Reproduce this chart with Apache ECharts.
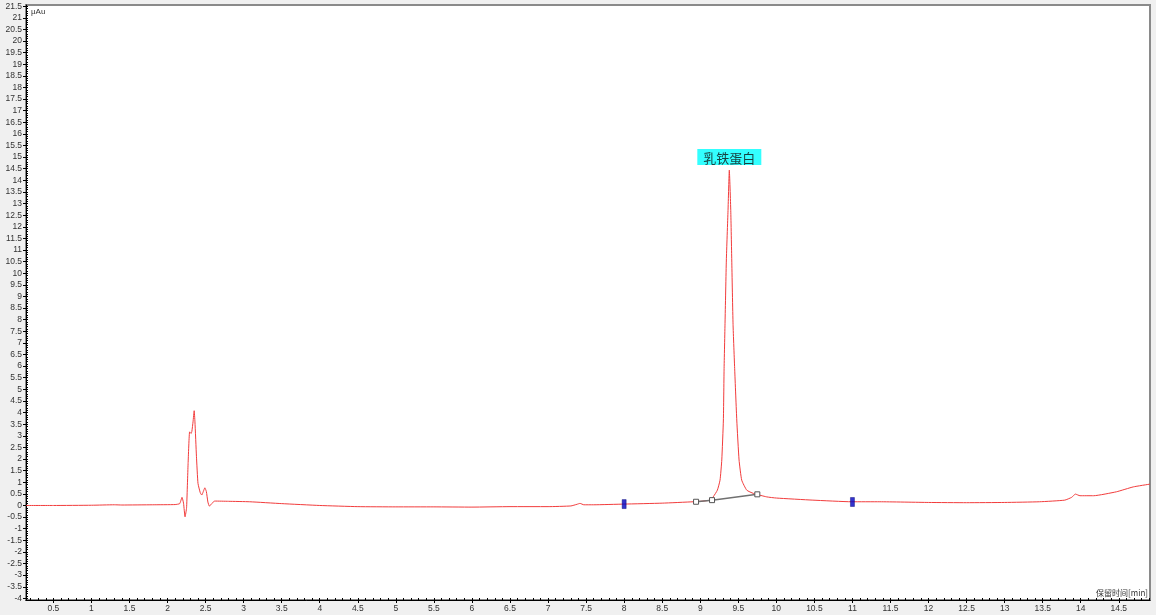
<!DOCTYPE html>
<html>
<head>
<meta charset="utf-8">
<script src="https://cdn.jsdelivr.net/npm/echarts@6/dist/echarts.min.js"></script>
<style>
html,body{margin:0;padding:0;background:#f0f0f0;}
#chart{width:1156px;height:615px;}
</style>
</head>
<body>
<div id="chart"></div>
<script>
// Retention time (min)
const times = [
  0.14, 0.5, 1.0, 1.3, 1.4, 1.8, 2.1, 2.16, 2.19, 2.21, 2.23, 2.25, 2.27, 2.29, 2.31, 2.32, 2.335, 2.35, 2.36, 2.38, 2.40,
  2.43, 2.45, 2.47, 2.49, 2.51, 2.53, 2.55, 2.58, 2.62, 2.8, 3.08, 3.5, 4.0, 4.5, 5.0, 5.5, 6.0, 6.5, 7.0,
  7.3, 7.38, 7.42, 7.47, 7.6, 8.0, 8.5, 8.91, 9.0, 9.13, 9.17, 9.225, 9.26, 9.283, 9.304, 9.313, 9.326, 9.343,
  9.365, 9.382, 9.401, 9.414, 9.431, 9.453, 9.48, 9.51, 9.545, 9.611, 9.698, 9.874, 10.0, 10.48, 10.99, 11.36,
  12.0, 12.5, 13.0, 13.46, 13.79, 13.88, 13.93, 13.99, 14.17, 14.47, 14.69, 14.91
];
// Detector signal (μAu)
const signal = [
  0.00, 0.00, 0.01, 0.03, 0.02, 0.03, 0.04, 0.08, 0.35, 0.10, -0.49, -0.10, 1.80, 3.17, 3.10, 3.20, 3.60, 4.08, 3.60, 2.10, 0.95,
  0.55, 0.45, 0.60, 0.76, 0.60, 0.15, -0.03, 0.08, 0.19, 0.18, 0.16, 0.08, 0.00, -0.05, -0.06, -0.06, -0.07, -0.05, -0.05,
  -0.02, 0.05, 0.09, 0.03, 0.03, 0.06, 0.10, 0.16, 0.18, 0.23, 0.37, 0.66, 1.09, 1.96, 3.68, 5.83, 7.90, 10.57,
  12.70, 14.44, 12.70, 10.57, 7.80, 5.83, 3.68, 1.96, 1.09, 0.66, 0.52, 0.37, 0.32, 0.23, 0.16, 0.16,
  0.13, 0.12, 0.13, 0.16, 0.23, 0.35, 0.49, 0.42, 0.42, 0.59, 0.80, 0.92
];
// Integration baseline points
const baseTimes = [8.945, 9.155, 9.75];
const baseValues = [0.16, 0.23, 0.48];
// Window markers
const markerTimes = [8.0, 11.0];
const markerValues = [0.06, 0.15];
// Peak annotation
const peakName = '乳铁蛋白';
const peakTime = 9.382;
const peakValue = 14.44;
// Tick labels
const xTickLabels = [0.5,1,1.5,2,2.5,3,3.5,4,4.5,5,5.5,6,6.5,7,7.5,8,8.5,9,9.5,10,10.5,11,11.5,12,12.5,13,13.5,14,14.5];
const yTickLabels = [-4,-3.5,-3,-2.5,-2,-1.5,-1,-0.5,0,0.5,1,1.5,2,2.5,3,3.5,4,4.5,5,5.5,6,6.5,7,7.5,8,8.5,9,9.5,10,10.5,11,11.5,12,12.5,13,13.5,14,14.5,15,15.5,16,16.5,17,17.5,18,18.5,19,19.5,20,20.5,21,21.5];
const xAxisName = '保留时间[min]';
const yAxisName = 'μAu';

const X_MIN = 0.14, X_MAX = 14.91, Y_MIN = -4.07, Y_MAX = 21.55;
const xMinor = [], yMinor = [];
for (let i = 2; i <= 149; i++) xMinor.push(+(i / 10).toFixed(1));
for (let i = -40; i <= 215; i++) yMinor.push(+(i / 10).toFixed(1));

const lbl = { fontSize: 8.5, color: '#333', fontFamily: 'Liberation Sans, Arial, sans-serif' };

const chart = echarts.init(document.getElementById('chart'), null, { renderer: 'canvas' });
chart.setOption({
  animation: false,
  backgroundColor: '#f0f0f0',
  grid: { left: 26, right: 6, top: 5, bottom: 15, show: true, backgroundColor: '#ffffff', borderColor: '#8a8a8a', borderWidth: 2 },
  xAxis: [
    { type: 'value', min: X_MIN, max: X_MAX, position: 'bottom',
      axisLine: { show: true, onZero: false, lineStyle: { color: '#000', width: 1 } },
      axisTick: { show: true, inside: true, length: 2, customValues: xMinor, lineStyle: { color: '#000' } },
      axisLabel: Object.assign({ show: true, margin: 4, customValues: xTickLabels }, lbl),
      splitLine: { show: false } },
    { type: 'value', min: X_MIN, max: X_MAX, position: 'bottom',
      axisLine: { show: false, onZero: false },
      axisTick: { show: true, inside: false, length: 3, customValues: xTickLabels, lineStyle: { color: '#000' } },
      axisLabel: { show: false }, splitLine: { show: false } }
  ],
  yAxis: [
    { type: 'value', min: Y_MIN, max: Y_MAX, position: 'left',
      axisLine: { show: true, onZero: false, lineStyle: { color: '#000', width: 1 } },
      axisTick: { show: true, inside: true, length: 2, customValues: yMinor, lineStyle: { color: '#000' } },
      axisLabel: Object.assign({ show: true, margin: 4, customValues: yTickLabels }, lbl),
      splitLine: { show: false } },
    { type: 'value', min: Y_MIN, max: Y_MAX, position: 'left',
      axisLine: { show: false, onZero: false },
      axisTick: { show: true, inside: false, length: 3, customValues: yTickLabels, lineStyle: { color: '#000' } },
      axisLabel: { show: false }, splitLine: { show: false } }
  ],
  graphic: [
    { type: 'text', left: 31, top: 8, z: 100, style: { text: yAxisName, fontSize: 8, fill: '#333', fontFamily: 'Liberation Sans, Arial, sans-serif' } },
    { type: 'text', right: 8, top: 589, z: 100, style: { text: xAxisName, fontSize: 8, fill: '#333', fontFamily: 'Noto Sans CJK SC, sans-serif' } }
  ],
  series: [
    { type: 'line', xAxisIndex: 0, yAxisIndex: 0, data: times.map((t, i) => [t, signal[i]]),
      showSymbol: false, symbol: 'none', smooth: 0.15, lineStyle: { color: '#f23c3c', width: 1 }, z: 3 },
    { type: 'line', xAxisIndex: 0, yAxisIndex: 0, data: baseTimes.map((t, i) => [t, baseValues[i]]),
      symbol: 'rect', symbolSize: 5, showSymbol: true,
      itemStyle: { color: '#ffffff', borderColor: '#555', borderWidth: 1 },
      lineStyle: { color: '#707070', width: 1.5 }, z: 4 },
    { type: 'scatter', xAxisIndex: 0, yAxisIndex: 0, data: markerTimes.map((t, i) => [t, markerValues[i]]),
      symbol: 'rect', symbolSize: [4, 9], itemStyle: { color: '#0000c0', borderColor: '#000070', borderWidth: 0.5 }, z: 5 },
    { type: 'scatter', xAxisIndex: 0, yAxisIndex: 0, data: [[peakTime, peakValue]],
      symbolSize: 0, z: 6,
      label: { show: true, position: 'top', distance: 5, formatter: peakName,
        backgroundColor: '#00ffff', color: '#111', fontSize: 13, padding: [2, 6, 1, 6],
        fontFamily: 'Noto Sans CJK SC, sans-serif' } }
  ]
});
</script>
</body>
</html>
